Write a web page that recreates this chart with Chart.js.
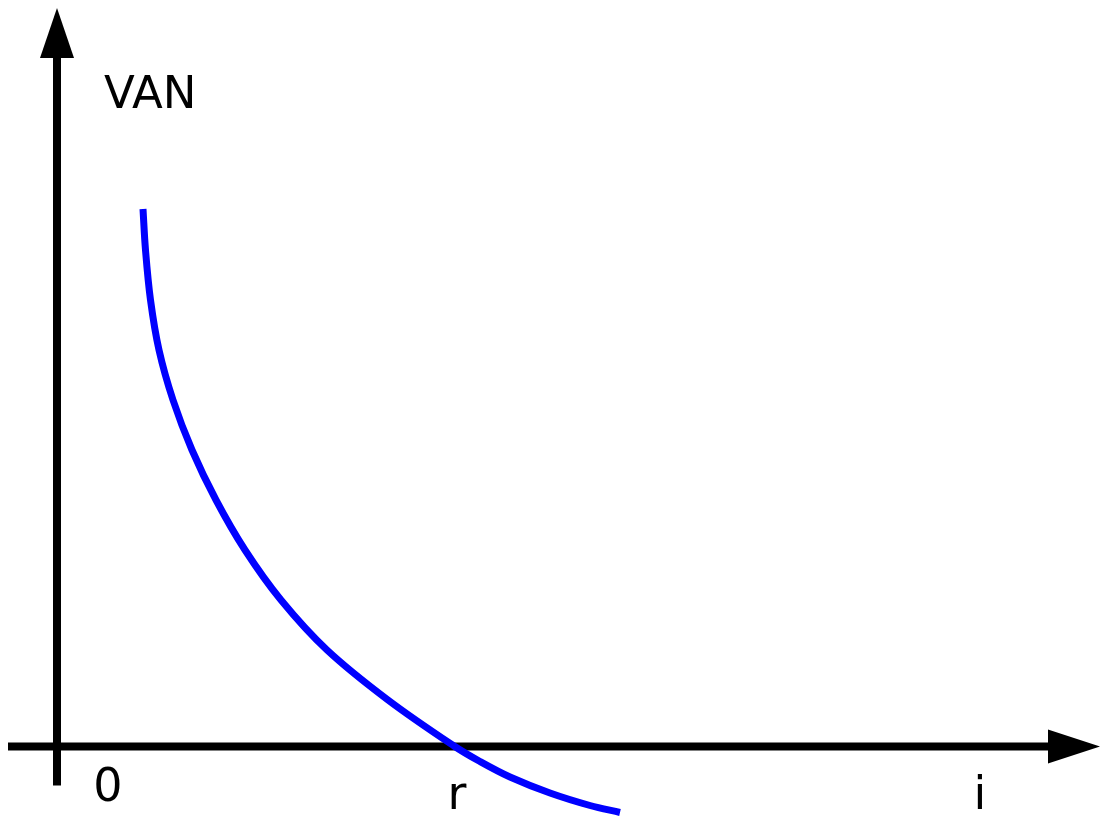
<!DOCTYPE html>
<html>
<head>
<meta charset="utf-8">
<title>VAN</title>
<script src="https://cdn.jsdelivr.net/npm/chart.js@4"></script>
<style>
  html, body { margin: 0; padding: 0; background: #fff; }
  #wrap { width: 1111px; height: 821px; position: relative; }
</style>
</head>
<body>
<div id="wrap"><canvas id="vanChart"></canvas></div>
<script>
// interest rate i (1 unit = 100 px in the picture)
const rates = [0.86, 0.885, 0.935, 1.02, 1.16, 1.35, 1.59, 1.88, 2.24, 2.70, 3.31, 3.97, 4.23, 4.53, 4.93, 5.33, 5.63];
// net present value (VAN) at each rate
const vanValues = [5.37, 4.96, 4.46, 3.96, 3.46, 2.96, 2.46, 1.96, 1.46, 0.96, 0.46, 0, -0.155, -0.31, -0.47, -0.595, -0.665];
// internal rate of return, where VAN = 0
const irr = 3.97;

const originLabel = '0';
const irrLabel = 'r';
const xAxisTitle = 'i';
const yAxisTitle = 'VAN';

const points = rates.map((r, k) => ({ x: r, y: vanValues[k] }));

// draws the two arrow axes and their labels under the curve
const arrowAxes = {
    id: 'arrowAxes',
    beforeDatasetsDraw(chart) {
        const { ctx, chartArea, scales } = chart;
        const x0 = scales.x.getPixelForValue(0);
        const y0 = scales.y.getPixelForValue(0) + 0.5;

        ctx.save();
        ctx.strokeStyle = '#000';
        ctx.fillStyle = '#000';
        ctx.lineWidth = 8;
        ctx.lineCap = 'butt';

        // vertical axis
        ctx.beginPath();
        ctx.moveTo(x0, y0 + 39);
        ctx.lineTo(x0, chartArea.top + 56);
        ctx.stroke();
        ctx.beginPath();
        ctx.moveTo(x0, chartArea.top + 8);
        ctx.lineTo(x0 - 17, chartArea.top + 58);
        ctx.lineTo(x0 + 17, chartArea.top + 58);
        ctx.closePath();
        ctx.fill();

        // horizontal axis
        const tip = chartArea.right - 11;
        ctx.beginPath();
        ctx.moveTo(chartArea.left + 8, y0);
        ctx.lineTo(tip - 50, y0);
        ctx.stroke();
        ctx.beginPath();
        ctx.moveTo(tip, y0);
        ctx.lineTo(tip - 52, y0 - 17);
        ctx.lineTo(tip - 52, y0 + 17);
        ctx.closePath();
        ctx.fill();

        // labels
        ctx.font = '46px "DejaVu Sans"';
        ctx.textBaseline = 'alphabetic';
        ctx.textAlign = 'center';
        ctx.fillText(originLabel, x0 + 51, y0 + 54);
        ctx.fillText(irrLabel, scales.x.getPixelForValue(irr) + 3, y0 + 62);
        ctx.fillText(xAxisTitle, tip - 120, y0 + 62);

        ctx.font = '45px "DejaVu Sans"';
        ctx.textAlign = 'left';
        ctx.fillText(yAxisTitle, x0 + 47, chartArea.top + 108);
        ctx.restore();
    }
};

new Chart(document.getElementById('vanChart'), {
    type: 'scatter',
    data: {
        datasets: [{
            label: yAxisTitle,
            data: points,
            showLine: true,
            borderColor: '#0000ff',
            borderWidth: 7,
            pointRadius: 0,
            fill: false,
            tension: 0.35
        }]
    },
    options: {
        responsive: true,
        maintainAspectRatio: false,
        animation: false,
        layout: { padding: 0 },
        plugins: {
            legend: { display: false },
            tooltip: { enabled: false },
            title: { display: false }
        },
        scales: {
            x: { type: 'linear', min: -0.57, max: 10.54, display: false },
            y: { type: 'linear', min: -0.75, max: 7.46, display: false }
        }
    },
    plugins: [arrowAxes]
});
</script>
</body>
</html>
